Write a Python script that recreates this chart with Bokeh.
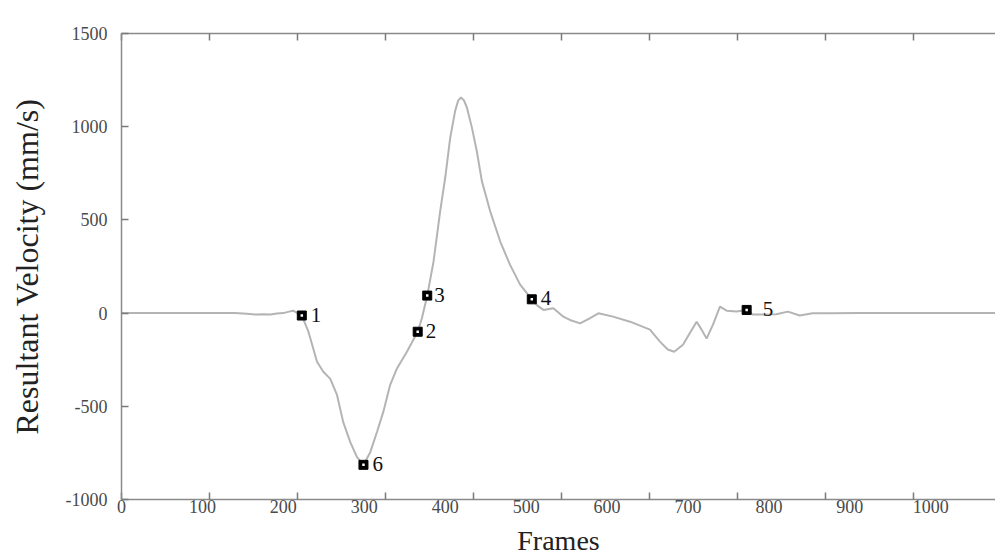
from bokeh.plotting import figure
from bokeh.models import Range1d, LinearAxis, FixedTicker, ColumnDataSource, LabelSet, CustomJSTickFormatter
from bokeh.core.properties import value
from bokeh.embed import file_html
from bokeh.resources import INLINE

# ---- data (frames, resultant velocity mm/s) ----
frames = [0, 60, 120, 140, 155, 165, 175, 184, 192, 200, 207, 212, 222.8, 231, 241.6, 249.4, 258,
          266.3, 274, 282.7, 291, 299, 307.4, 315.7, 323.5, 332, 340.4, 352.7, 366, 371.2, 377.8,
          385.6, 393.8, 400, 406.2, 412.3, 416, 419.4, 423, 426.8, 433, 439, 445.3, 455.6, 468, 480,
          492.6, 507, 514, 521.4, 533.7, 546, 556, 566.7, 578, 589.3, 607.4, 628.4, 653, 665.4, 675,
          683, 693.8, 702, 710.7, 717, 723, 730.9, 739.5, 747.8, 760, 772.5, 780, 795, 809, 823.5,
          838, 854, 875, 912, 1000, 1080]
velocity = [0, 0, 0, 0, -3, -8, -6, -8, -2, 0, 8, 13, -13, -100, -261, -315, -353,
            -439, -585, -692, -773, -814, -746, -638, -530, -385, -297, -207, -100, -28, 94,
            277, 547, 726, 941, 1085, 1140, 1157, 1142, 1103, 995, 870, 708, 546, 384, 260,
            153, 74, 40, 17, 26, -19, -40, -55, -30, -1, -19, -46, -89, -153, -195,
            -207, -170, -110, -46, -90, -137, -62, 35, 13, 8, 17, -8, -8, -6, 8,
            -13, -1, -1, 0, 0, 0]

event_frames = [222.8, 366, 377.8, 507, 772.5, 299]
event_velocity = [-13, -100, 94, 74, 17, -814]
event_labels = ["1", "2", "3", "4", "5", "6"]

x_ticks = [0, 100, 200, 300, 400, 500, 600, 700, 800, 900, 1000]
y_ticks = [-1000, -500, 0, 500, 1000, 1500]

SERIF = "Liberation Serif"
AXIS_GRAY = "#8a8a8a"
TICK_GRAY = "#7a7a7a"

p = figure(width=995, height=559, x_range=Range1d(0, 1080), y_range=Range1d(-1000, 1500),
           x_axis_type=None, y_axis_type=None, output_backend="svg", toolbar_location=None,
           min_border_left=121, min_border_right=0, min_border_top=33, min_border_bottom=60)
p.extra_x_ranges = {"tk": Range1d(0, 993)}
p.outline_line_color = None
p.background_fill_color = "white"
p.border_fill_color = "white"

empty = CustomJSTickFormatter(code="return ''")
plain = CustomJSTickFormatter(code="return String(tick)")

# bottom tick marks (tick positions of original)
tick_axis = LinearAxis(x_range_name="tk", ticker=FixedTicker(ticks=[100 * i for i in range(10)]),
                       formatter=empty)
tick_axis.major_tick_in = 7
tick_axis.major_tick_out = 0
tick_axis.major_label_text_font_size = "0px"
tick_axis.major_label_standoff = 0
tick_axis.axis_line_color = AXIS_GRAY
tick_axis.axis_line_width = 1.5
tick_axis.major_tick_line_color = TICK_GRAY
tick_axis.major_tick_line_width = 1.5
tick_axis.minor_tick_line_color = None
p.add_layout(tick_axis, "below")

# bottom labels
lab_axis = LinearAxis(ticker=FixedTicker(ticks=x_ticks), axis_label="Frames", formatter=plain)
lab_axis.axis_line_color = None
lab_axis.major_tick_line_color = None
lab_axis.minor_tick_line_color = None
lab_axis.major_tick_out = 0
lab_axis.major_tick_in = 0
lab_axis.major_label_standoff = 0
lab_axis.major_label_text_font = SERIF
lab_axis.major_label_text_font_size = "18px"
lab_axis.major_label_text_color = "#4a4a4a"
lab_axis.axis_label_text_font = SERIF
lab_axis.axis_label_text_font_size = "28px"
lab_axis.axis_label_text_font_style = "normal"
lab_axis.axis_label_text_color = "#222222"
lab_axis.axis_label_standoff = 9
p.add_layout(lab_axis, "below")

# top axis
top_axis = LinearAxis(x_range_name="tk", ticker=FixedTicker(ticks=[100 * i for i in range(10)]),
                      formatter=empty)
top_axis.major_tick_in = 7
top_axis.major_tick_out = 0
top_axis.major_label_text_font_size = "0px"
top_axis.major_label_standoff = 0
top_axis.axis_line_color = AXIS_GRAY
top_axis.axis_line_width = 1.5
top_axis.major_tick_line_color = TICK_GRAY
top_axis.major_tick_line_width = 1.5
top_axis.minor_tick_line_color = None
p.add_layout(top_axis, "above")

# left axis
y_axis = LinearAxis(ticker=FixedTicker(ticks=y_ticks), axis_label="Resultant Velocity (mm/s)",
                    formatter=plain)
y_axis.major_tick_in = 7
y_axis.major_tick_out = 0
y_axis.minor_tick_line_color = None
y_axis.axis_line_color = AXIS_GRAY
y_axis.axis_line_width = 1.5
y_axis.major_tick_line_color = TICK_GRAY
y_axis.major_tick_line_width = 1.5
y_axis.major_label_standoff = 14
y_axis.major_label_text_font = SERIF
y_axis.major_label_text_font_size = "18px"
y_axis.major_label_text_color = "#4a4a4a"
y_axis.axis_label_text_font = SERIF
y_axis.axis_label_text_font_size = "32px"
y_axis.axis_label_text_font_style = "normal"
y_axis.axis_label_text_color = "#222222"
y_axis.axis_label_standoff = 18
p.add_layout(y_axis, "left")

p.line(frames, velocity, line_color="#b4b4b4", line_width=2)

src = ColumnDataSource(dict(x=event_frames, y=event_velocity, t=event_labels,
                            dx=[9, 8, 7, 9, 16, 9]))
p.scatter("x", "y", source=src, marker="square", size=9, fill_color="black", line_color="black")
p.scatter("x", "y", source=src, marker="square", size=2.5, fill_color="white", line_color=None)
p.add_layout(LabelSet(x="x", y="y", text="t", source=src, x_offset="dx", y_offset=1,
                      text_baseline="middle", text_align="left", text_font=value(SERIF),
                      text_font_size="21px", text_color="#111111"))

open("out.html", "w").write(file_html(p, INLINE))
